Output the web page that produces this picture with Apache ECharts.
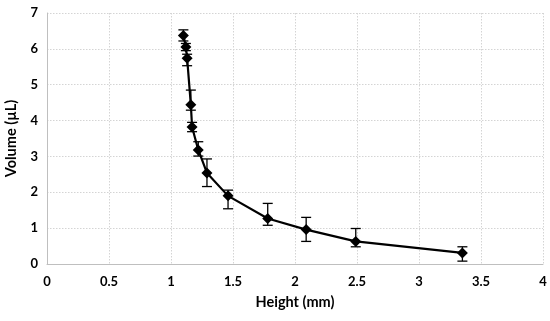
<!DOCTYPE html>
<html><head><meta charset="utf-8">
<script src="https://cdn.jsdelivr.net/npm/echarts@6/dist/echarts.min.js"></script>
<style>html,body{margin:0;padding:0;background:#fff}#c{width:550px;height:321px}</style>
</head><body><div id="c"></div>
<script>
var heights = [1.10, 1.12, 1.13, 1.16, 1.17, 1.22, 1.29, 1.46, 1.78, 2.09, 2.49, 3.35];
var volumes = [6.37, 6.05, 5.74, 4.44, 3.82, 3.18, 2.54, 1.90, 1.27, 0.96, 0.63, 0.31];
var errHigh = [6.53, 6.15, 5.85, 4.85, 3.95, 3.41, 2.93, 2.06, 1.69, 1.30, 0.99, 0.48];
var errLow  = [6.22, 5.95, 5.53, 4.29, 3.69, 3.01, 2.16, 1.54, 1.08, 0.63, 0.48, 0.08];
var xTicks = [0, 0.5, 1, 1.5, 2, 2.5, 3, 3.5, 4];
var yTicks = [0, 1, 2, 3, 4, 5, 6, 7];
var xTitle = 'Height (mm)';
var yTitle = 'Volume (µL)';

var font = 'Lato, "Open Sans", sans-serif';
var chart = echarts.init(document.getElementById('c'));
var lineData = heights.map(function(h, i){ return [h, volumes[i]]; });
var errData = heights.map(function(h, i){ return [h, errLow[i], errHigh[i]]; });

chart.setOption({
  animation: false,
  grid: {left: 47, right: 7, top: 13, bottom: 57, containLabel: false, outerBoundsMode: 'none'},
  xAxis: {
    type: 'value', min: xTicks[0], max: xTicks[xTicks.length-1], interval: 0.5,
    name: xTitle, nameLocation: 'middle', nameGap: 31,
    nameTextStyle: {fontFamily: font, fontWeight: 'bold', fontSize: 14.5, color: '#000'},
    axisLine: {show: true, lineStyle: {color: '#bfbfbf', width: 1}},
    axisTick: {show: false},
    axisLabel: {fontFamily: font, fontWeight: 'bold', fontSize: 13, color: '#000', margin: 11},
    splitLine: {show: true, lineStyle: {color: '#d4d4d4', type: [1.5, 1.5], width: 1}}
  },
  yAxis: {
    type: 'value', min: yTicks[0], max: yTicks[yTicks.length-1], interval: 1,
    name: yTitle, nameLocation: 'middle', nameGap: 28, nameRotate: 90,
    nameTextStyle: {fontFamily: font, fontWeight: 'bold', fontSize: 14.5, color: '#000'},
    axisLine: {show: true, lineStyle: {color: '#bfbfbf', width: 1}},
    axisTick: {show: false},
    axisLabel: {fontFamily: font, fontWeight: 'bold', fontSize: 13, color: '#000', margin: 9},
    splitLine: {show: true, lineStyle: {color: '#d4d4d4', type: [1.5, 1.5], width: 1}}
  },
  series: [
    {
      type: 'custom',
      data: errData,
      z: 3,
      renderItem: function(params, api){
        var x = api.value(0);
        var lo = api.coord([x, api.value(1)]);
        var hi = api.coord([x, api.value(2)]);
        var cw = 5;
        var st = {stroke: '#000', lineWidth: 1.3};
        return {type: 'group', children: [
          {type: 'line', shape: {x1: lo[0], y1: lo[1], x2: hi[0], y2: hi[1]}, style: st},
          {type: 'line', shape: {x1: lo[0]-cw, y1: lo[1], x2: lo[0]+cw, y2: lo[1]}, style: st},
          {type: 'line', shape: {x1: hi[0]-cw, y1: hi[1], x2: hi[0]+cw, y2: hi[1]}, style: st}
        ]};
      }
    },
    {
      type: 'line',
      data: lineData,
      z: 4,
      symbol: 'diamond', symbolSize: 11,
      lineStyle: {color: '#000', width: 2.2},
      itemStyle: {color: '#000'}
    }
  ]
});
</script></body></html>
